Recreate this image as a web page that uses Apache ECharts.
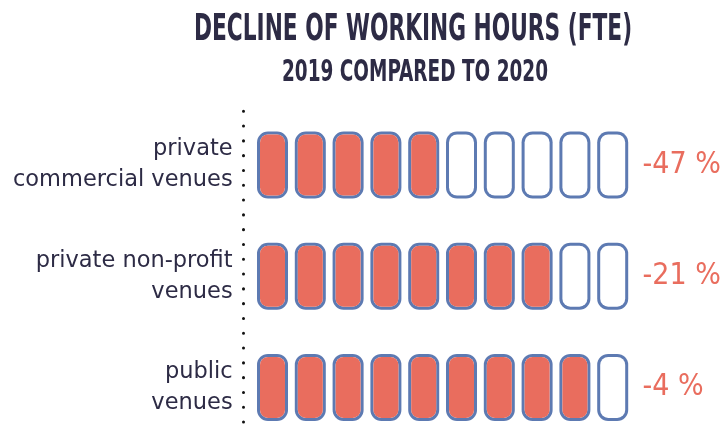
<!DOCTYPE html>
<html>
<head>
<meta charset="utf-8">
<script src="https://cdn.jsdelivr.net/npm/echarts@6/dist/echarts.min.js"></script>
<style>
  html, body { margin: 0; padding: 0; background: #fff; }
  #chart { width: 727px; height: 427px; }
</style>
</head>
<body>
<div id="chart"></div>
<script>
const categories = ['private\ncommercial venues', 'private non-profit\nvenues', 'public\nvenues']
const filledUnits = [5, 8, 9]
const totalUnits = [10, 10, 10]
const declineLabels = ['-47 %', '-21 %', '-4 %']

// pill outline (blue) and pill body (white / salmon) drawn on top of it
const outerPill = 'path://M11,0H20A11,11,0,0,1,31,11V56A11,11,0,0,1,20,67H11A11,11,0,0,1,0,56V11A11,11,0,0,1,11,0Z'
const innerPill = 'path://M8,0H17A8,8,0,0,1,25,8V53A8,8,0,0,1,17,61H8A8,8,0,0,1,0,53V8A8,8,0,0,1,8,0Z'
const darkText = '#2d2b45'
const salmon = '#e96d5e'
const outline = '#5d7ab2'

const pillBase = {
  type: 'pictorialBar', symbolRepeat: true,
  symbolBoundingData: 10, barGap: '-100%', silent: true
}

const chart = echarts.init(document.getElementById('chart'))
chart.setOption({
  backgroundColor: '#fff',
  graphic: [
    {
      type: 'text', x: 413, y: 11, scaleX: 0.635,
      style: { text: 'DECLINE OF WORKING HOURS (FTE)', textAlign: 'center', fill: darkText, font: 'bold 38px "DejaVu Sans Condensed", "DejaVu Sans", sans-serif' }
    },
    {
      type: 'text', x: 415, y: 58, scaleX: 0.684,
      style: { text: '2019 COMPARED TO 2020', textAlign: 'center', fill: darkText, font: 'bold 30px "DejaVu Sans Condensed", "DejaVu Sans", sans-serif' }
    }
  ],
  grid: { left: 253.6, top: 109.4, width: 378, height: 333.6, outerBoundsMode: 'none', containLabel: false },
  xAxis: { type: 'value', min: 0, max: 10, show: false },
  yAxis: {
    type: 'category', data: categories, inverse: true, offset: 10,
    axisTick: { show: false },
    axisLine: { onZero: false, lineStyle: { color: '#111', width: 3, type: [0.1, 14.7], cap: 'round', dashOffset: 13 } },
    axisLabel: {
      margin: 11, align: 'right', lineHeight: 31,
      color: darkText, fontSize: 22.5, fontFamily: '"DejaVu Sans", sans-serif'
    }
  },
  series: [
    Object.assign({}, pillBase, {
      data: totalUnits, symbol: outerPill, symbolSize: [31, 67], symbolMargin: '4!',
      itemStyle: { color: outline },
      label: {
        show: true, position: 'right', distance: 11,
        formatter: p => declineLabels[p.dataIndex],
        color: salmon, fontSize: 30, fontFamily: '"DejaVu Sans Condensed", "DejaVu Sans", sans-serif'
      },
      z: 1
    }),
    Object.assign({}, pillBase, {
      data: totalUnits, symbol: innerPill, symbolSize: [25, 61], symbolMargin: '7!',
      itemStyle: { color: '#fff' }, z: 2
    }),
    Object.assign({}, pillBase, {
      data: filledUnits, symbol: innerPill, symbolSize: [25, 61], symbolMargin: '7!',
      itemStyle: { color: salmon }, z: 3
    })
  ]
})
</script>
</body>
</html>
